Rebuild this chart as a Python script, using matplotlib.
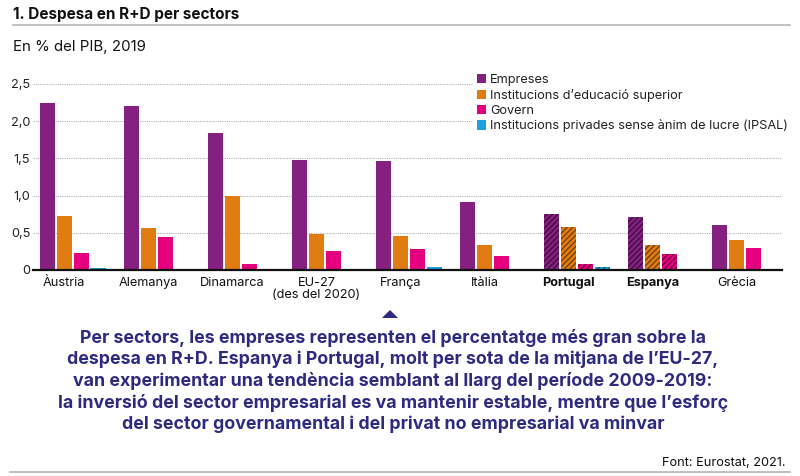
import numpy as np
import matplotlib
matplotlib.use("Agg")
import matplotlib.pyplot as plt
from matplotlib.patches import Patch, Polygon
from matplotlib.lines import Line2D

plt.rcParams['font.family'] = ['Inter', 'DejaVu Sans']
plt.rcParams['hatch.linewidth'] = 0.9

# dades (% del PIB, 2019)
paisos = ['Àustria', 'Alemanya', 'Dinamarca', 'EU-27\n(des del 2020)', 'França',
          'Itàlia', 'Portugal', 'Espanya', 'Grècia']
empreses = [2.25, 2.21, 1.84, 1.48, 1.46, 0.92, 0.75, 0.71, 0.60]
educacio = [0.73, 0.56, 1.00, 0.49, 0.46, 0.34, 0.58, 0.34, 0.40]
govern = [0.23, 0.45, 0.085, 0.26, 0.28, 0.19, 0.08, 0.22, 0.30]
ipsal = [0.03, 0.0, 0.01, 0.01, 0.04, 0.02, 0.04, 0.01, 0.01]
destacats = ['Portugal', 'Espanya']

series = [empreses, educacio, govern, ipsal]
noms = ['Empreses', 'Institucions d\u2019educació superior', 'Govern',
        'Institucions privades sense ànim de lucre (IPSAL)']
colors = ['#84207f', '#e07c12', '#e5007d', '#1e9fe0']
foscos = ['#3d0c3c', '#6e3a06', '#70003c', '#0b4f73']

W, H = 800, 476
fig = plt.figure(figsize=(W / 100, H / 100), dpi=100)

def px(x0, y0, x1, y1):
    return [x0 / W, 1 - y1 / H, (x1 - x0) / W, (y1 - y0) / H]

ax = fig.add_axes(px(33, 84, 782, 270))

x = np.arange(len(paisos))
step = 0.2
for k, (vals, c, f) in enumerate(zip(series, colors, foscos)):
    for i, v in enumerate(vals):
        if paisos[i] in destacats:
            ax.bar(x[i] + k * step, v, width=0.18, color=c, edgecolor=f,
                   linewidth=0, hatch='//////', zorder=3)
        else:
            ax.bar(x[i] + k * step, v, width=0.18, color=c, linewidth=0, zorder=3)

ax.set_xlim(-0.173, 8.74)
ax.set_ylim(0, 2.5)
yt = [0, 0.5, 1.0, 1.5, 2.0, 2.5]
ax.set_yticks(yt)
ax.set_yticklabels(['0' if t == 0 else f'{t:.1f}'.replace('.', ',') for t in yt],
                   fontsize=9.2, color='#222222')
ax.set_xticks(x + step)
ax.set_xticklabels(paisos, fontsize=9.2, color='#111111', linespacing=1.0)
for lab in ax.get_xticklabels():
    if lab.get_text() in destacats:
        lab.set_fontweight('bold')
ax.tick_params(axis='both', length=0)
ax.tick_params(axis='y', pad=2)
ax.tick_params(axis='x', pad=5)
for s in ax.spines.values():
    s.set_visible(False)
ax.grid(axis='y', color='#b0b0b0', linestyle=(0, (1, 1)), linewidth=0.8, zorder=0)
ax.set_axisbelow(True)
ax.axhline(0, color='#111111', linewidth=1.6, zorder=4, clip_on=False)

handles = [Patch(facecolor=c, edgecolor='none') for c in colors]
leg = fig.legend(handles, noms, loc='upper left', bbox_to_anchor=(473 / W, 1 - 70 / H),
                 frameon=True, fontsize=9.2, handlelength=0.75, handleheight=0.75,
                 handletextpad=0.3, labelspacing=0.22, borderpad=0.3,
                 borderaxespad=0, fancybox=False)
leg.get_frame().set_facecolor('white')
leg.get_frame().set_edgecolor('none')
leg.get_frame().set_alpha(1)
leg.set_zorder(5)
for t in leg.get_texts():
    t.set_color('#222222')

# capçalera
fig.text(13 / W, 1 - 15 / H, '1. Despesa en R+D per sectors', fontsize=11,
         fontweight='bold', va='center', ha='left', color='#111111')
fig.add_artist(Line2D([13 / W, 790 / W], [1 - 25 / H] * 2, color='#b5b5b5',
                      linewidth=1.2, transform=fig.transFigure))
fig.text(13 / W, 1 - 47 / H, 'En % del PIB, 2019', fontsize=10.8, va='center',
         ha='left', color='#111111')

# nota
lila = '#2e2a80'
fig.add_artist(Polygon([[382 / W, 1 - 318 / H], [398 / W, 1 - 318 / H], [390 / W, 1 - 310 / H]],
                       closed=True, facecolor=lila, edgecolor='none',
                       transform=fig.transFigure))
nota = ('Per sectors, les empreses representen el percentatge més gran sobre la\n'
        'despesa en R+D. Espanya i Portugal, molt per sota de la mitjana de l\u2019EU-27,\n'
        'van experimentar una tendència semblant al llarg del període 2009-2019:\n'
        'la inversió del sector empresarial es va mantenir estable, mentre que l\u2019esforç\n'
        'del sector governamental i del privat no empresarial va minvar')
fig.text(393 / W, 1 - 381 / H, nota, fontsize=12.8, fontweight='bold', color=lila,
         ha='center', va='center', linespacing=1.27, multialignment='center')

fig.text(785 / W, 1 - 463 / H, 'Font: Eurostat, 2021.', fontsize=9.2, ha='right',
         va='center', color='#111111')
fig.add_artist(Line2D([10 / W, 790 / W], [1 - 472 / H] * 2, color='#b5b5b5',
                      linewidth=1.2, transform=fig.transFigure))

fig.savefig('out.png', dpi=100, facecolor='white')
